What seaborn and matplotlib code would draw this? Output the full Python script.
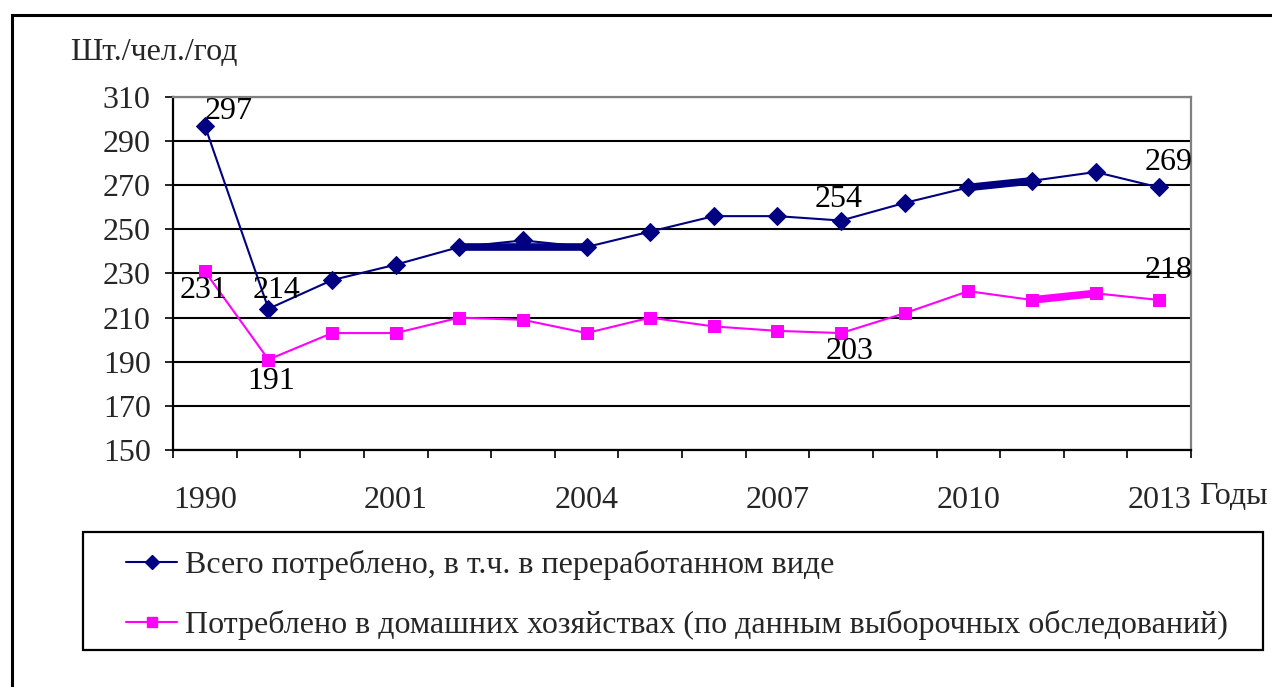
import numpy as np
import pandas as pd
import matplotlib
matplotlib.use("Agg")
import matplotlib.pyplot as plt
import seaborn as sns
from matplotlib.patches import Rectangle
from matplotlib.lines import Line2D

# данные (шт./чел./год)
years = ["1990", "1995", "2000", "2001", "2002", "2003", "2004", "2005",
         "2006", "2007", "2008", "2009", "2010", "2011", "2012", "2013"]
total = [297, 214, 227, 234, 242, 245, 242, 249, 256, 256, 254, 262, 269, 272, 276, 269]
household = [231, 191, 203, 203, 210, 209, 203, 210, 206, 204, 203, 212, 222, 218, 221, 218]

name_total = "Всего потреблено, в т.ч. в переработанном виде"
name_house = "Потреблено в домашних хозяйствах (по данным выборочных обследований)"

sns.set_theme(style="white")
plt.rcParams["font.family"] = ["Liberation Serif", "DejaVu Serif"]
FS = 23

idx = np.arange(len(years))
df = pd.DataFrame({"pos": idx, "total": total, "household": household})

NAVY = "#000080"
PINK = "#FF00FF"
W, H = 1272, 687

fig = plt.figure(figsize=(W / 100, H / 100), dpi=100)
ax = fig.add_axes([173 / W, 1 - 450 / H, (1191 - 173) / W, (450 - 97) / H])

sns.lineplot(data=df, x="pos", y="total", ax=ax, color=NAVY, lw=1.5,
             marker="D", markersize=9, markeredgecolor=NAVY, zorder=4)
sns.lineplot(data=df, x="pos", y="household", ax=ax, color=PINK, lw=1.5,
             marker="s", markersize=8, markeredgecolor=PINK, zorder=4)

# утолщённые участки линий, как в исходном рисунке
for a, b in [(4, 6), (12, 13)]:
    ax.plot([idx[a], idx[b]], [total[a], total[b]], color=NAVY, lw=5.5, zorder=4)
for a, b in [(13, 14)]:
    ax.plot([idx[a], idx[b]], [household[a], household[b]], color=PINK, lw=5.5, zorder=4)

# подписи значений
labels = [
    (0, total, (17, 10)), (1, total, (6, 13)), (10, total, (-2, 15)), (15, total, (7, 18)),
    (0, household, (-1, -14)), (1, household, (2, -16)), (10, household, (6, -13)),
    (15, household, (7, 21)),
]
for i, series, off in labels:
    ax.annotate(str(series[i]), (idx[i], series[i]), xytext=off,
                textcoords="offset points", ha="center", va="center",
                fontsize=FS, color="black", zorder=5)

ax.set_xlim(-0.5, len(years) - 0.5)
ax.set_ylim(150, 310)
ax.set_yticks(np.arange(150, 311, 20))
ax.tick_params(axis="y", labelsize=FS, length=6, width=1.2, color="black",
               direction="out", pad=10, left=True)
ax.yaxis.grid(True, color="black", lw=1.5)
ax.xaxis.grid(False)

ax.set_xticks(np.arange(-0.5, len(years), 1))
ax.set_xticklabels([])
ax.tick_params(axis="x", which="major", length=6, width=1.2, color="black",
               direction="out", bottom=True)
ax.set_xticks(idx[::3], minor=True)
ax.set_xticklabels(years[::3], minor=True)
ax.tick_params(axis="x", which="minor", length=0, labelsize=FS, pad=26)

ax.set_xlabel("")
ax.set_ylabel("")
for s in ["left", "bottom"]:
    ax.spines[s].set_color("black")
    ax.spines[s].set_linewidth(1.6)
for s in ["top", "right"]:
    ax.spines[s].set_color("#808080")
    ax.spines[s].set_linewidth(1.6)

fig.text(70 / W, 1 - 52 / H, "Шт./чел./год", fontsize=FS, va="center", ha="left")
fig.text(1268 / W, 1 - 497 / H, "Годы", fontsize=FS, va="center", ha="right")

# легенда без рамки + отдельная рамка
handles = [
    Line2D([], [], color=NAVY, lw=1.5, marker="D", markersize=7),
    Line2D([], [], color=PINK, lw=1.5, marker="s", markersize=7),
]
leg = fig.legend(handles, [name_total, name_house], loc="upper left",
                 bbox_to_anchor=(126 / W, 1 - 550 / H), fontsize=FS,
                 frameon=False, handlelength=1.6, handletextpad=0.25,
                 labelspacing=0.93, borderpad=0, borderaxespad=0)
fig.patches.append(Rectangle((83 / W, 1 - 650 / H), (1263 - 83) / W, (650 - 532) / H,
                             transform=fig.transFigure, fill=False,
                             edgecolor="black", lw=1.6))

# внешняя рамка
fig.patches.append(Rectangle((12 / W, -0.1), 1.2, 1 - 15 / H + 0.1,
                             transform=fig.transFigure, fill=False,
                             edgecolor="black", lw=2.2, clip_on=False))

fig.savefig("out.png", dpi=100)
